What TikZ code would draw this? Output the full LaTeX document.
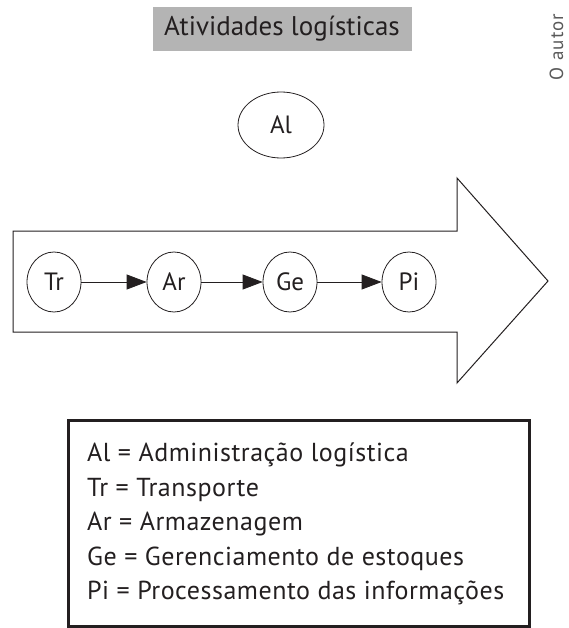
\documentclass[tikz,border=0pt]{standalone}
\usepackage{fontspec}
\setmainfont{PT Sans}
\usetikzlibrary{arrows.meta,shapes.geometric}
\definecolor{titlegray}{HTML}{B4B4B4}
\definecolor{ink}{HTML}{231F20}
\begin{document}
\begin{tikzpicture}[x=1pt,y=-1pt,
  every node/.style={text=ink},
  stage/.style={draw=ink, ellipse, minimum width=54pt, minimum height=60pt,
    inner sep=0pt, line width=0.8pt, font=\fontsize{25}{29}\selectfont},
  flow/.style={draw=ink, line width=0.8pt,
    -{Triangle[length=20pt,width=15pt]}},
  legendbox/.style={draw=ink, line width=3pt, inner sep=0pt}]
\useasboundingbox (0,0) rectangle (569,628);

% heading on a grey band
\node[fill=titlegray, minimum width=259pt, minimum height=44pt, inner sep=0pt,
      font=\fontsize{27}{32}\selectfont] (title) at (282,29) {Atividades logísticas};

% source note, running up the right edge
\node[rotate=90, anchor=base, inner sep=0pt, text=black!65,
      font=\fontsize{19}{21}\selectfont\addfontfeature{LetterSpace=6}]
      (source) at (563,47) {O autor};

% administration on top
\node[stage, minimum width=86pt, minimum height=66pt] (al) at (281,125) {Al};

% broad flow arrow carrying the activity chain
\draw[draw=ink, line width=1pt, line join=miter]
  (13,231) -- (457,231) -- (457,178) -- (548,281) -- (457,383)
  -- (457,332) -- (13,332) -- cycle;

\node[stage] (tr) at (54,282)  {Tr};
\node[stage] (ar) at (174,282) {Ar};
\node[stage] (ge) at (290,282) {Ge};
\node[stage] (pi) at (409,282) {Pi};

\draw[flow] (tr) -- (ar);
\draw[flow] (ar) -- (ge);
\draw[flow] (ge) -- (pi);

% key to the abbreviations
\node[legendbox, minimum width=461pt, minimum height=206pt] (legend) at (298.5,523) {};
\node[anchor=west, align=left, inner sep=0pt,
      font=\fontsize{26}{34.5}\selectfont\addfontfeature{LetterSpace=2}] (keys) at (87,524)
  {Al = Administração logística\\
   Tr = Transporte\\
   Ar = Armazenagem\\
   Ge = Gerenciamento de estoques\\
   Pi = Processamento das informações};
\end{tikzpicture}
\end{document}
